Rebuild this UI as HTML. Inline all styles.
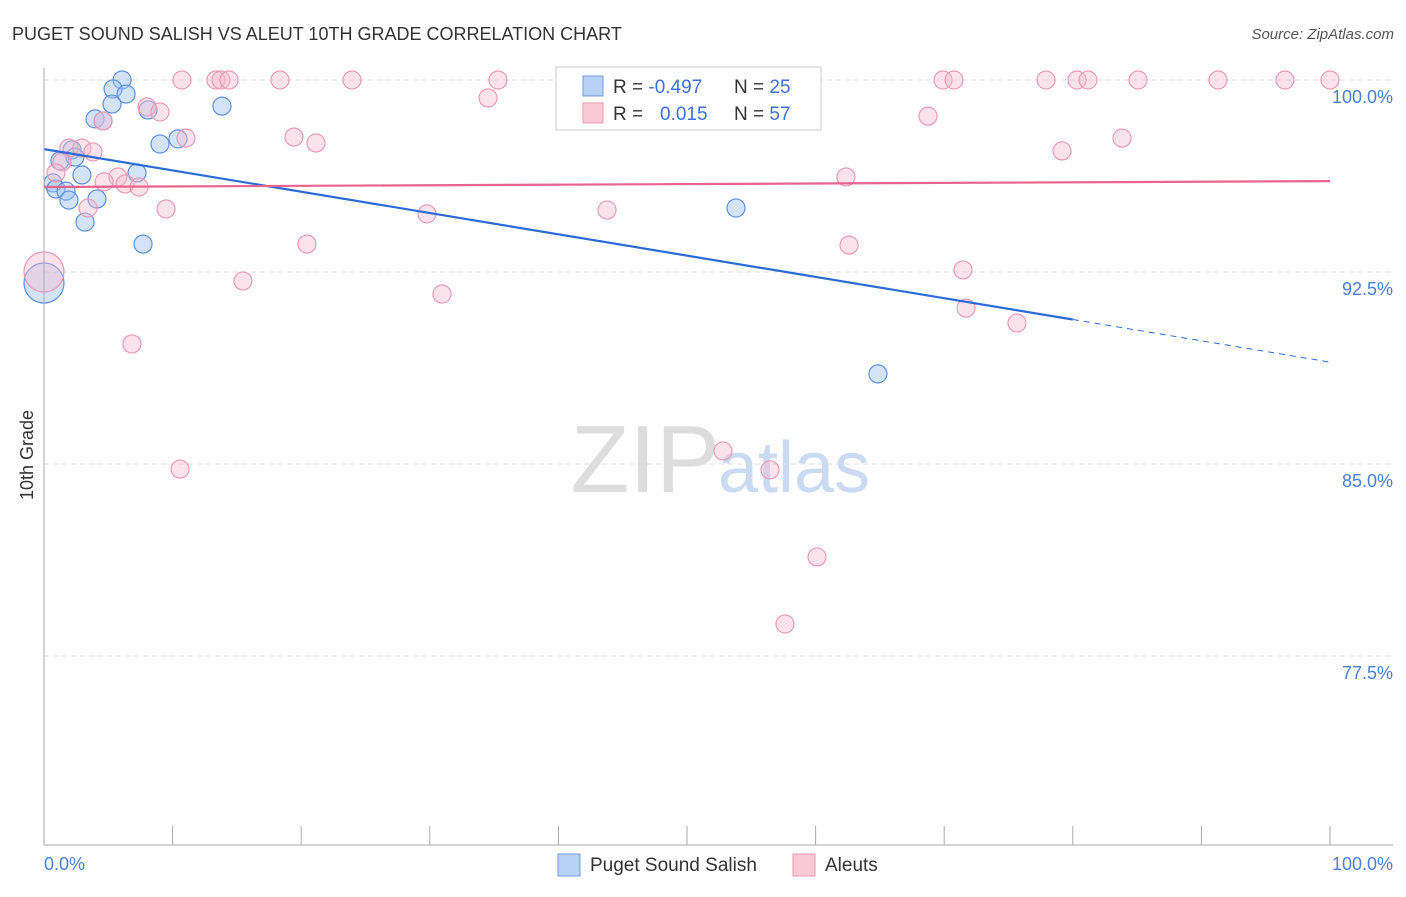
<!DOCTYPE html>
<html><head><meta charset="utf-8"><style>
body{margin:0;background:#fff;font-family:"Liberation Sans",sans-serif;}
svg text{font-family:"Liberation Sans",sans-serif;}
</style></head><body>
<svg id="chart" width="1406" height="892">
<text x="12" y="40" font-size="18" fill="#333">PUGET SOUND SALISH VS ALEUT 10TH GRADE CORRELATION CHART</text>
<text x="1394" y="39" font-size="15" fill="#555" font-style="italic" text-anchor="end">Source: ZipAtlas.com</text>
<text x="720" y="492" font-size="96" fill="#ddd" text-anchor="end" font-family="Liberation Serif">ZIP</text>
<text x="718" y="492" font-size="72" fill="#c9daf2">atlas</text>
<text transform="translate(33,455) rotate(-90)" font-size="18" fill="#333" text-anchor="middle">10th Grade</text>
<g id="grid"></g><g id="pts"></g><g id="lines"></g>
<line x1="44" y1="68" x2="44" y2="845" stroke="#aaa"/>
<line x1="44" y1="845" x2="1393" y2="845" stroke="#aaa"/>
<text x="44" y="870" font-size="18" fill="#4a7fd6">0.0%</text>
<text x="1393" y="870" font-size="18" fill="#4a7fd6" text-anchor="end">100.0%</text>
<g>
<rect x="556" y="67" width="265" height="63" fill="#fff" stroke="#ccc"/>
<rect x="583" y="76" width="20" height="20" fill="#b9d1f5" stroke="#6d9ae0"/>
<rect x="583" y="103" width="20" height="20" fill="#f9c9d7" stroke="#ec9ab2"/>
<text x="613" y="93" font-size="19" fill="#333">R = <tspan fill="#3f6fd8">-0.497</tspan></text>
<text x="734" y="93" font-size="19" fill="#333">N = <tspan fill="#3f6fd8">25</tspan></text>
<text x="613" y="120" font-size="19" fill="#333">R = <tspan fill="#3f6fd8" x="660">0.015</tspan></text>
<text x="734" y="120" font-size="19" fill="#333">N = <tspan fill="#3f6fd8">57</tspan></text>
</g>
<g>
<rect x="558" y="854" width="22" height="22" fill="#b9d1f5" stroke="#6d9ae0"/>
<text x="590" y="871" font-size="19" fill="#333">Puget Sound Salish</text>
<rect x="793" y="854" width="22" height="22" fill="#f9c9d7" stroke="#ec9ab2"/>
<text x="825" y="871" font-size="19" fill="#333">Aleuts</text>
</g>
</svg>
<script>
const yTicks=[100,92.5,85,77.5];
const yTickLabels=["100.0%","92.5%","85.0%","77.5%"];
const xTicks=[10,20,30,40,50,60,70,80,90,100];
const blueX=[6.07,5.37,6.38,5.29,8.09,13.84,3.97,4.59,9.02,10.42,2.18,1.24,2.41,2.95,7.23,0.70,0.93,1.71,1.94,4.12,3.19,7.70,53.81,64.85,0];
const blueY=[100,99.65,99.45,99.06,98.83,98.98,98.48,98.40,97.5,97.7,97.27,96.84,96.99,96.29,96.37,95.98,95.74,95.66,95.31,95.35,94.45,93.59,95.0,88.52,92.07];
const blueR=[9,9,9,9,9,9,9,9,9,9,9,9,9,9,9,9,9,9,9,9,9,9,9,9,20];
const pinkX=[10.73,13.37,13.76,14.39,18.35,23.95,35.30,47.12,55.60,69.91,70.76,77.92,80.33,81.18,85.07,91.29,96.50,100,34.53,8.01,9.02,4.59,68.74,11.04,19.44,21.15,83.83,79.16,1.94,2.95,3.81,1.40,0.93,5.75,4.67,6.30,7.39,62.36,3.42,9.49,29.78,43.78,20.45,62.60,71.46,15.47,30.95,71.70,75.66,6.84,10.58,52.80,56.45,60.11,57.62,0];
const pinkY=[100,100,100,100,100,100,100,100,100,100,100,100,100,100,100,100,100,100,99.3,98.95,98.75,98.4,98.59,97.73,97.77,97.54,97.73,97.23,97.34,97.34,97.19,96.8,96.37,96.21,96.02,95.94,95.82,96.21,95.0,94.96,94.77,94.92,93.59,93.55,92.58,92.15,91.64,91.09,90.51,89.69,84.80,85.51,84.77,81.37,78.75,92.5];
const blueTrend=[97.3,88.98];
const pinkTrend=[95.82,96.05];
const NS="http://www.w3.org/2000/svg";
const sx=v=>44+v*12.86, sy=v=>80+(100-v)*25.6;
function mk(tag,at,parent){const e=document.createElementNS(NS,tag);for(const k in at)e.setAttribute(k,at[k]);document.getElementById(parent).appendChild(e);return e;}
yTicks.forEach((t,i)=>{
 const l=mk('line',{x1:44,x2:1393,y1:sy(t),y2:sy(t),stroke:'#ddd','stroke-dasharray':'5,4'},'grid');
 
 
 const tx=mk('text',{x:1393,y:sy(t)+23,'font-size':18,fill:'#4a7fd6','text-anchor':'end'},'grid');
 tx.textContent=yTickLabels[i];
 
 
});
xTicks.forEach(t=>{
 const l=mk('line',{x1:sx(t),x2:sx(t),y1:826,y2:845,stroke:'#aaa'},'grid');
 
 
});
blueX.forEach((x,i)=>{
 const c=mk('circle',{cx:sx(x),cy:sy(blueY[i]),r:blueR[i],fill:'rgba(160,195,240,0.45)',stroke:'#5d8fe0','stroke-width':1.2},'pts');
 
 
});
pinkX.forEach((x,i)=>{
 const c=mk('circle',{cx:sx(x),cy:sy(pinkY[i]),r:i==pinkX.length-1?20:9,fill:'rgba(248,185,205,0.4)',stroke:'#ea9ab4','stroke-width':1.2},'pts');
 
 
});
const bAt=x=>blueTrend[0]+(blueTrend[1]-blueTrend[0])*x/100;
let l1=mk('line',{x1:sx(0),y1:sy(bAt(0)),x2:sx(80),y2:sy(bAt(80)),stroke:'#2b6bd6','stroke-width':2.2},'lines');


let l2=mk('line',{x1:sx(80),y1:sy(bAt(80)),x2:sx(100),y2:sy(bAt(100)),stroke:'#2b6bd6','stroke-width':1,'stroke-dasharray':'6,5'},'lines');


let l3=mk('line',{x1:sx(0),y1:sy(pinkTrend[0]),x2:sx(100),y2:sy(pinkTrend[1]),stroke:'#e8648e','stroke-width':2.2},'lines');


</script>
</body></html>
